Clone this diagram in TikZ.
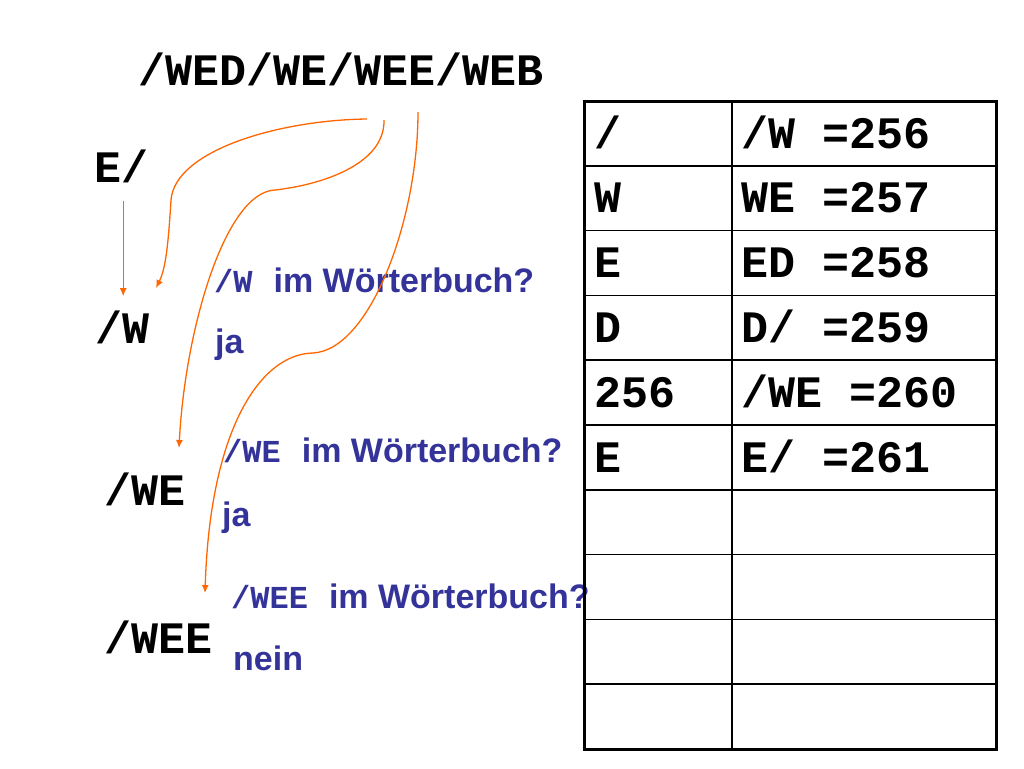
\documentclass[tikz,border=0pt]{standalone}
\usepackage{fontspec}
\setmainfont{Liberation Sans}
\setmonofont{Liberation Mono}
\usetikzlibrary{arrows.meta}
\definecolor{wbblue}{RGB}{51,51,153}
\definecolor{wborange}{RGB}{255,102,0}

\begin{document}
\begin{tikzpicture}[x=1pt,y=-1pt,>={Latex[length=8pt,width=7pt]},
  word/.style={anchor=base west,inner sep=0pt,font=\ttfamily\bfseries\fontsize{45}{50}\selectfont},
  ask/.style={anchor=base west,inner sep=0pt,text=wbblue,font=\bfseries\fontsize{34}{38}\selectfont},
  flow/.style={->,draw=wborange,line width=1.3pt}]

\useasboundingbox (0,0) rectangle (1024,768);

% input string and the strings read so far
\node[word] (title) at (138,85)  {/WED/WE/WEE/WEB};
\node[word] (eslash) at (94,182) {E/};
\node[word] (w)   at (95,343)  {/W};
\node[word] (we)  at (104,505) {/WE};
\node[word] (wee) at (104,653) {/WEE};

% look up in the dictionary
\node[ask] (q1) at (214,292) {\texttt{\fontsize{32}{36}\selectfont/W}\hspace{21pt}im Wörterbuch?};
\node[ask] (a1) at (215,353) {ja};
\node[ask] (q2) at (223,462) {\texttt{\fontsize{32}{36}\selectfont/WE}\hspace{21pt}im Wörterbuch?};
\node[ask] (a2) at (222,526) {ja};
\node[ask] (q3) at (231,608) {\texttt{\fontsize{32}{36}\selectfont/WEE}\hspace{21pt}im Wörterbuch?};
\node[ask] (a3) at (233,670) {nein};

% table
\draw[line width=3pt] (584,101) rectangle (996,749);
\foreach \r in {1,...,9}
  \draw[line width=1.5pt] (584,{101+64.8*\r}) -- (996,{101+64.8*\r});
\draw[line width=1.5pt] (732,101) -- (732,749);
\foreach \k/\v [count=\i] in {{/}/{/W =256},W/{WE =257},E/{ED =258},D/{D/ =259},256/{/WE =260},E/{E/ =261}}{
  \node[word] (k\i) at (594,{101+64.8*(\i-1)+47}) {\k};
  \node[word] (v\i) at (741,{101+64.8*(\i-1)+47}) {\v};
}

% arrows
\coordinate (s1) at (367,119);
\coordinate (s2) at (384,120);
\coordinate (s3) at (418,112);
\coordinate (t1) at (156,288);
\coordinate (t2) at (179,448);
\coordinate (t3) at (205,593);

\draw[flow,shorten <=18pt,shorten >=14pt] ([xshift=2pt]eslash.south) -- ([xshift=2pt]eslash.south |- w.north);
\draw[flow] (s1) .. controls (280,120) and (175,150) .. (171,200) .. controls (168,250) and (165,270) .. (t1);
\draw[flow] (s2) .. controls (385,165) and (320,185) .. (275,190) .. controls (225,192) and (185,330) .. (t2);
\draw[flow] (s3) .. controls (418,220) and (370,350) .. (313,353) .. controls (260,354) and (210,430) .. (t3);
\end{tikzpicture}
\end{document}
